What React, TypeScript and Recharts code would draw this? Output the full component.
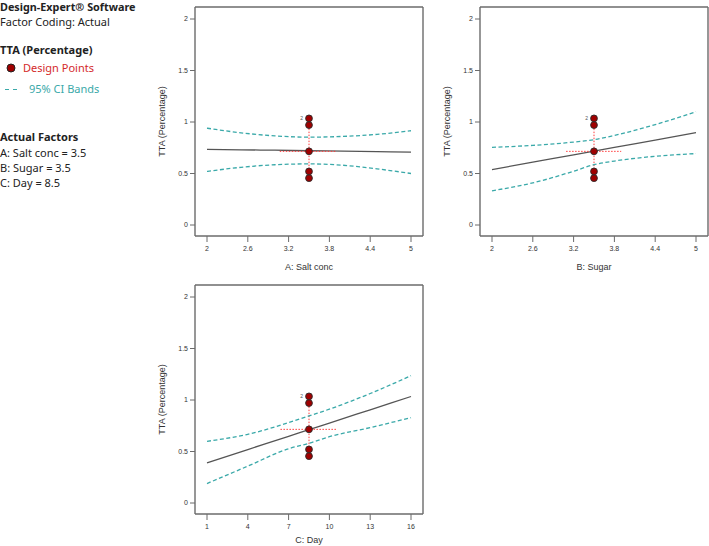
import React from 'react'
import {
  ComposedChart,
  Line,
  Scatter,
  XAxis,
  YAxis,
  ReferenceLine,
} from 'recharts'

// A: Salt conc
const A_X = [2, 2.5, 3, 3.5, 4, 4.5, 5]
const A_FIT = [0.734, 0.73, 0.726, 0.721, 0.717, 0.712, 0.708]
const A_UPPER = [0.94, 0.895, 0.865, 0.853, 0.86, 0.88, 0.915]
const A_LOWER = [0.52, 0.56, 0.585, 0.593, 0.58, 0.545, 0.5]
const A_TICKS = [2, 2.6, 3.2, 3.8, 4.4, 5]
const A_CROSS_X = [3.07, 3.9]

// B: Sugar
const B_X = [2, 2.6, 3.2, 3.5, 3.8, 4.4, 5]
const B_FIT = [0.538, 0.61, 0.681, 0.717, 0.753, 0.824, 0.896]
const B_UPPER = [0.754, 0.773, 0.805, 0.828, 0.87, 0.975, 1.1]
const B_LOWER = [0.332, 0.409, 0.522, 0.586, 0.621, 0.667, 0.693]
const B_TICKS = [2, 2.6, 3.2, 3.8, 4.4, 5]
const B_CROSS_X = [3.09, 3.9]

// C: Day
const C_X = [1, 4, 7, 8.5, 10, 13, 16]
const C_FIT = [0.39, 0.519, 0.647, 0.712, 0.776, 0.905, 1.034]
const C_UPPER = [0.599, 0.667, 0.78, 0.846, 0.911, 1.063, 1.236]
const C_LOWER = [0.189, 0.358, 0.527, 0.58, 0.644, 0.732, 0.829]
const C_TICKS = [1, 4, 7, 10, 13, 16]
const C_CROSS_X = [6.4, 10.5]

// design points (same responses in every panel), top one is a replicate
const DESIGN_Y = [1.035, 0.97, 0.715, 0.52, 0.455]
const DESIGN_REP = ['2', '', '', '', '']
const CROSS_Y = [0.455, 0.97]
const CROSS_MID = 0.715
const Y_TICKS = [0, 0.5, 1, 1.5, 2]

const TEAL = '#3aa9a9'
const PT_RED = '#a00000'
const DOT_RED = '#ff3b3b'
const FRAME = '#6b6b6b'
const AXIS_FONT = '"Liberation Sans", Arial, sans-serif'
const UI_FONT = '"Noto Sans", "Open Sans", sans-serif'

type PanelProps = {
  xs: number[]
  fit: number[]
  upper: number[]
  lower: number[]
  ticks: number[]
  crossX: number[]
  center: number
  title: string
  left: number
  top: number
  titleOffset: number
}

const tickStyle = { fontSize: 7, fill: '#333', fontFamily: AXIS_FONT }
const frameLine = { stroke: FRAME, strokeWidth: 1.4 }

function DesignPoint(props: any) {
  const { cx, cy, payload } = props
  return (
    <g>
      <circle cx={cx} cy={cy} r={3.4} fill={PT_RED} stroke="#2a2a2a" strokeWidth={0.9} />
      {payload.rep ? (
        <text x={cx - 6} y={cy + 1.8} fontSize={5} fill="#555" textAnchor="end" fontFamily={AXIS_FONT}>
          {payload.rep}
        </text>
      ) : null}
    </g>
  )
}

function Panel({ xs, fit, upper, lower, ticks, crossX, center, title, left, top, titleOffset }: PanelProps) {
  const rows = xs.map((x, i) => ({ x, fit: fit[i], upper: upper[i], lower: lower[i] }))
  const pts = DESIGN_Y.map((y, i) => ({ x: center, y, rep: DESIGN_REP[i] }))
  const domain: [number, number] = [ticks[0], ticks[ticks.length - 1]]
  const pad = { left: 12, right: 12 }
  const ypad = { top: 12, bottom: 11 }

  return (
    <div style={{ position: 'absolute', left, top }}>
      <ComposedChart
        width={290}
        height={280}
        data={rows}
        margin={{ top: 6, right: 16, bottom: 0, left: 0 }}
      >
        <XAxis
          dataKey="x"
          type="number"
          domain={domain}
          ticks={ticks}
          padding={pad}
          height={44}
          tick={tickStyle}
          tickSize={6}
          tickMargin={4}
          axisLine={frameLine}
          tickLine={{ stroke: FRAME, strokeWidth: 1 }}
          label={{
            value: title,
            position: 'insideBottom',
            offset: titleOffset,
            style: { fontSize: 9, fill: '#333', fontFamily: AXIS_FONT },
          }}
        />
        <XAxis
          xAxisId="top"
          orientation="top"
          type="number"
          domain={domain}
          padding={pad}
          height={1}
          tick={false}
          tickLine={false}
          axisLine={frameLine}
        />
        <YAxis
          type="number"
          domain={[0, 2]}
          ticks={Y_TICKS}
          padding={ypad}
          width={45}
          tick={tickStyle}
          tickSize={5}
          tickMargin={2}
          axisLine={frameLine}
          tickLine={{ stroke: FRAME, strokeWidth: 1 }}
          label={{
            value: 'TTA (Percentage)',
            angle: -90,
            position: 'insideLeft',
            offset: 12,
            style: { fontSize: 9, fill: '#333', fontFamily: AXIS_FONT, textAnchor: 'middle' },
          }}
        />
        <YAxis
          yAxisId="right"
          orientation="right"
          type="number"
          domain={[0, 2]}
          padding={ypad}
          width={1}
          tick={false}
          tickLine={false}
          axisLine={frameLine}
        />
        <ReferenceLine
          segment={[{ x: center, y: CROSS_Y[0] }, { x: center, y: CROSS_Y[1] }]}
          stroke={DOT_RED}
          strokeDasharray="1.5 1.5"
          strokeWidth={1}
        />
        <Line dataKey="upper" type="monotone" stroke={TEAL} strokeWidth={1.3} strokeDasharray="4 2.5" dot={false} isAnimationActive={false} />
        <Line dataKey="lower" type="monotone" stroke={TEAL} strokeWidth={1.3} strokeDasharray="4 2.5" dot={false} isAnimationActive={false} />
        <Line dataKey="fit" type="monotone" stroke="#555" strokeWidth={1.3} dot={false} isAnimationActive={false} />
        <ReferenceLine
          segment={[{ x: crossX[0], y: CROSS_MID }, { x: crossX[1], y: CROSS_MID }]}
          stroke={DOT_RED}
          strokeDasharray="1.5 1.5"
          strokeWidth={1}
        />
        <Scatter data={pts} dataKey="y" shape={DesignPoint} isAnimationActive={false} />
      </ComposedChart>
    </div>
  )
}

const line = (top: number, extra?: React.CSSProperties): React.CSSProperties => ({
  position: 'absolute',
  left: 0,
  top,
  fontSize: 11,
  lineHeight: '12px',
  whiteSpace: 'nowrap',
  color: '#222',
  fontFamily: UI_FONT,
  ...extra,
})

function Legend() {
  return (
    <div>
      <div style={line(0, { fontWeight: 700, fontSize: 10.8, lineHeight: '14px' })}>Design-Expert® Software</div>
      <div style={line(16)}>Factor Coding: Actual</div>
      <div style={line(44, { fontWeight: 700 })}>TTA (Percentage)</div>
      <svg style={{ position: 'absolute', left: 0, top: 60 }} width={22} height={36}>
        <circle cx={11} cy={8} r={4} fill={PT_RED} stroke="#222" strokeWidth={1} />
        <line x1={5} y1={29.5} x2={21} y2={29.5} stroke={TEAL} strokeWidth={1.2} strokeDasharray="4 4" />
      </svg>
      <div style={line(62, { left: 23, color: '#d42a2a' })}>Design Points</div>
      <div style={line(83, { left: 29, color: TEAL })}>95% CI Bands</div>
      <div style={line(131, { fontWeight: 700 })}>Actual Factors</div>
      <div style={line(147)}>A: Salt conc = 3.5</div>
      <div style={line(162)}>B: Sugar = 3.5</div>
      <div style={line(177)}>C: Day = 8.5</div>
    </div>
  )
}

export default function App() {
  return (
    <div style={{ position: 'absolute', left: 0, top: 0, width: 709, height: 546, background: '#fff', overflow: 'hidden' }}>
      <Legend />
      <Panel xs={A_X} fit={A_FIT} upper={A_UPPER} lower={A_LOWER} ticks={A_TICKS} crossX={A_CROSS_X} center={3.5} title="A: Salt conc" left={150} top={0} titleOffset={10} />
      <Panel xs={B_X} fit={B_FIT} upper={B_UPPER} lower={B_LOWER} ticks={B_TICKS} crossX={B_CROSS_X} center={3.5} title="B: Sugar" left={435} top={0} titleOffset={10} />
      <Panel xs={C_X} fit={C_FIT} upper={C_UPPER} lower={C_LOWER} ticks={C_TICKS} crossX={C_CROSS_X} center={8.5} title="C: Day" left={150} top={278} titleOffset={15} />
    </div>
  )
}
